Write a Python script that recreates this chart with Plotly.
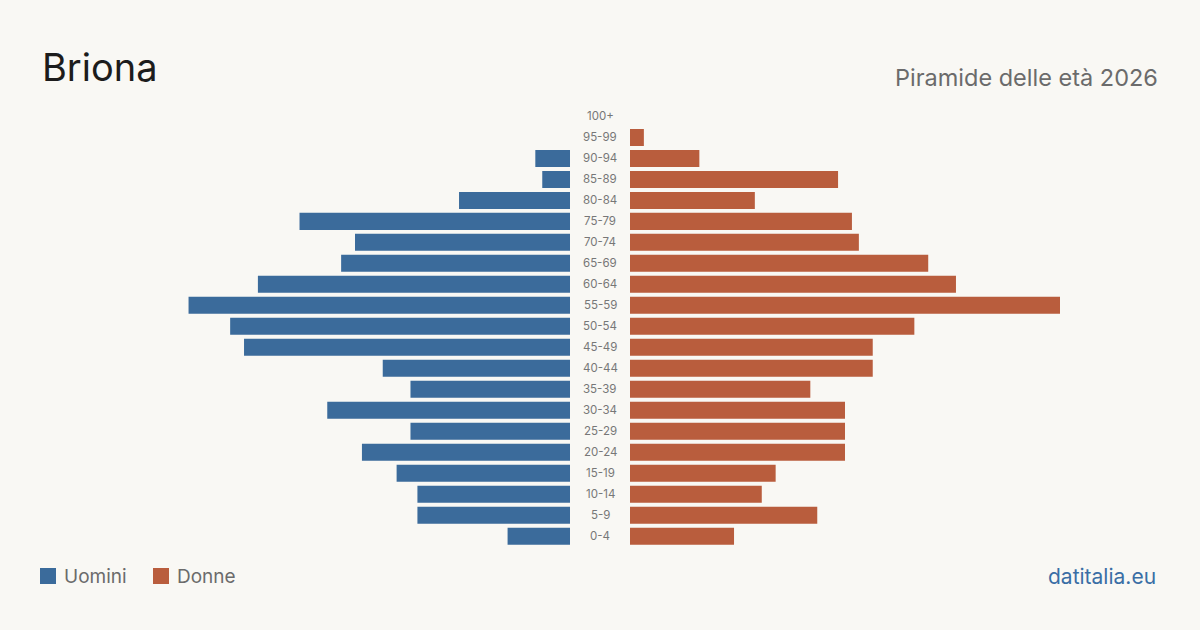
import plotly.graph_objects as go

age_groups = ["0-4", "5-9", "10-14", "15-19", "20-24", "25-29", "30-34", "35-39",
              "40-44", "45-49", "50-54", "55-59", "60-64", "65-69", "70-74",
              "75-79", "80-84", "85-89", "90-94", "95-99", "100+"]
men = [9, 22, 22, 25, 30, 23, 35, 23, 27, 47, 49, 55, 45, 33, 31, 39, 16, 4, 5, 0, 0]
women = [15, 27, 19, 21, 31, 31, 31, 26, 35, 35, 41, 62, 47, 43, 33, 32, 18, 30, 10, 2, 0]

BLUE = "#3b6b9b"
ORANGE = "#b95d3d"
BG = "#f9f8f4"
FONT = "Inter"

W, H = 1200, 630
px_per_unit = 430 / 62
xmax = 530 / px_per_unit

fig = go.Figure()
fig.add_trace(go.Bar(y=age_groups, x=men, orientation="h", marker_color=BLUE,
                     marker_line_width=0,
                     xaxis="x", yaxis="y", name="Uomini", showlegend=False,
                     hoverinfo="x+y"))
fig.add_trace(go.Bar(y=age_groups, x=women, orientation="h", marker_color=ORANGE,
                     marker_line_width=0,
                     xaxis="x2", yaxis="y", name="Donne", showlegend=False,
                     hoverinfo="x+y"))

annotations = []
for g in age_groups:
    annotations.append(dict(x=600 / W, xref="paper", y=g, yref="y", text=g,
                            showarrow=False, xanchor="center", yanchor="middle",
                            font=dict(family=FONT, size=11.5, color="#777777")))

annotations += [
    dict(x=40 / W, y=1 - 67 / H, xref="paper", yref="paper", text="Briona",
         showarrow=False, xanchor="left", yanchor="middle",
         font=dict(family=FONT, size=38, color="#1c1c1c")),
    dict(x=1160 / W, y=1 - 77 / H, xref="paper", yref="paper",
         text="Piramide delle età 2026", showarrow=False, xanchor="right",
         yanchor="middle", font=dict(family=FONT, size=23.5, color="#6b6b6b")),
    dict(x=62 / W, y=1 - 576 / H, xref="paper", yref="paper", text="Uomini",
         showarrow=False, xanchor="left", yanchor="middle",
         font=dict(family=FONT, size=19, color="#6b6b6b")),
    dict(x=175 / W, y=1 - 576 / H, xref="paper", yref="paper", text="Donne",
         showarrow=False, xanchor="left", yanchor="middle",
         font=dict(family=FONT, size=19, color="#6b6b6b")),
    dict(x=1158 / W, y=1 - 576 / H, xref="paper", yref="paper", text="datitalia.eu",
         showarrow=False, xanchor="right", yanchor="middle",
         font=dict(family=FONT, size=21, color="#3a6ea5")),
]

shapes = [
    dict(type="rect", xref="paper", yref="paper", x0=40 / W, x1=56 / W,
         y0=1 - 584 / H, y1=1 - 568 / H, fillcolor=BLUE, line=dict(width=0)),
    dict(type="rect", xref="paper", yref="paper", x0=153 / W, x1=169 / W,
         y0=1 - 584 / H, y1=1 - 568 / H, fillcolor=ORANGE, line=dict(width=0)),
]

fig.update_layout(
    width=W, height=H,
    margin=dict(l=0, r=0, t=0, b=0),
    paper_bgcolor=BG, plot_bgcolor=BG,
    bargap=0.19,
    xaxis=dict(domain=[40 / W, 570 / W], range=[xmax, 0], visible=False,
               fixedrange=True),
    xaxis2=dict(domain=[630 / W, 1160 / W], range=[0, xmax], visible=False,
                fixedrange=True),
    yaxis=dict(domain=[1 - 546.8 / H, 1 - 105.9 / H], visible=False,
               categoryorder="array", categoryarray=age_groups,
               range=[-0.5, len(age_groups) - 0.5]),
    annotations=annotations,
    shapes=shapes,
    font=dict(family=FONT),
)

fig.write_html("out.html")
